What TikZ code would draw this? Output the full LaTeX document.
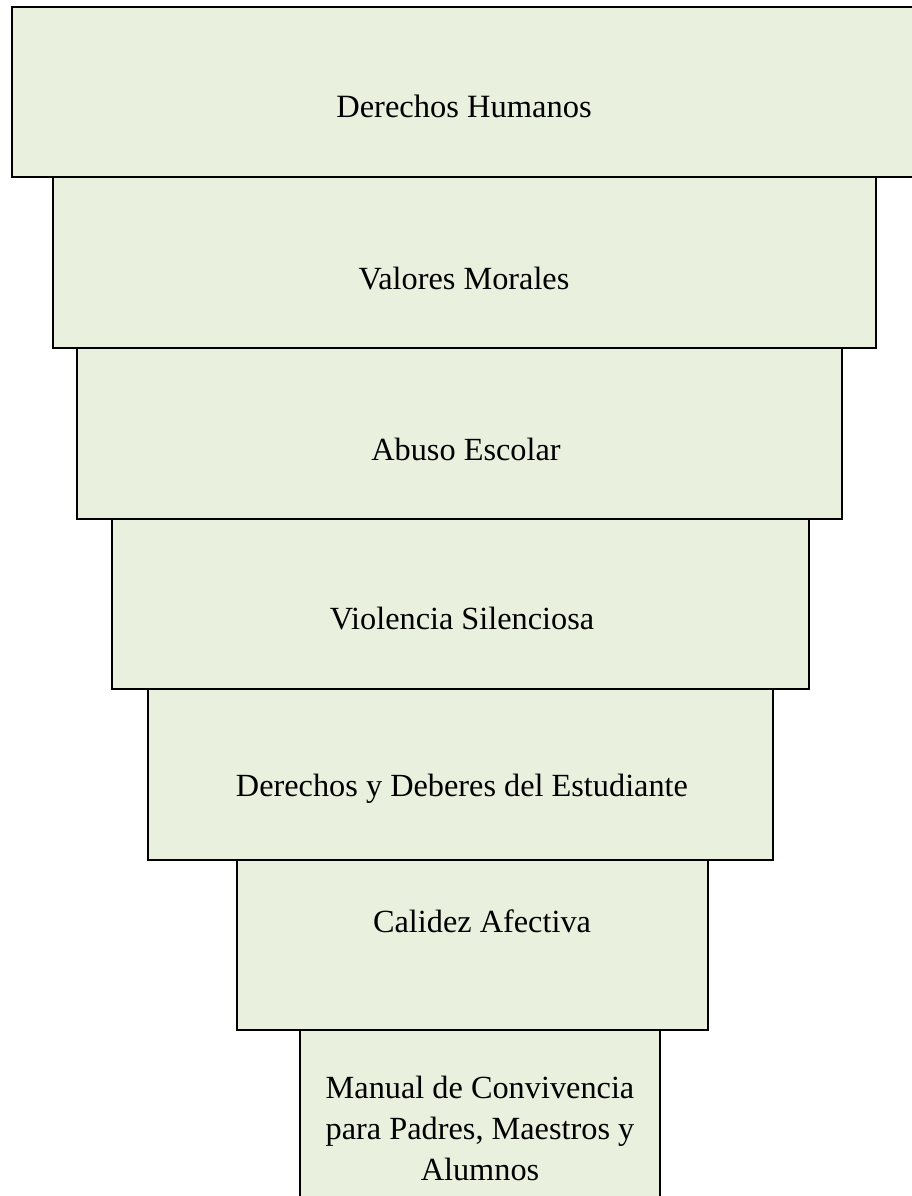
\documentclass[tikz,border=0pt]{standalone}
\usepackage{fontspec}
\setmainfont{Liberation Serif}
\definecolor{boxfill}{RGB}{233,240,221}
\begin{document}
\begin{tikzpicture}[x=1pt,y=-1pt,
  tier/.style={draw=black, line width=1.6pt, fill=boxfill, anchor=north west, inner sep=0pt, outer sep=0pt},
  lbl/.style={inner sep=0pt, font=\fontsize{32.3}{40}\selectfont, align=center}]
\useasboundingbox (0,0) rectangle (912,1196);
\clip (0,0) rectangle (912,1196);
\fill[white] (0,0) rectangle (912,1196);
\node[tier, minimum width=360pt, minimum height=185pt] (b7) at (300,1030) {};
\node[tier, minimum width=471pt, minimum height=170pt] (b6) at (237,860) {};
\node[tier, minimum width=625pt, minimum height=171pt] (b5) at (148,689) {};
\node[tier, minimum width=697pt, minimum height=170pt] (b4) at (112,519) {};
\node[tier, minimum width=765pt, minimum height=171pt] (b3) at (77,348) {};
\node[tier, minimum width=823pt, minimum height=171pt] (b2) at (53,177) {};
\node[tier, minimum width=920pt, minimum height=170pt] (b1) at (12,7) {};
\node[lbl, font=\fontsize{32.5}{40}\selectfont] (t1) at (464,106) {Derechos Humanos};
\node[lbl] (t2) at (464,279) {Valores Morales};
\node[lbl] (t3) at (466,449) {Abuso Escolar};
\node[lbl] (t4) at (462,619) {Violencia Silenciosa};
\node[lbl] (t5) at (462,789) {Derechos y Deberes del Estudiante};
\node[lbl] (t6) at (482,921) {Calidez Afectiva};
\node[lbl, font=\fontsize{32.3}{41}\selectfont] (t7) at (480,1128) {Manual de Convivencia\\para Padres, Maestros y\\Alumnos};
\end{tikzpicture}
\end{document}
